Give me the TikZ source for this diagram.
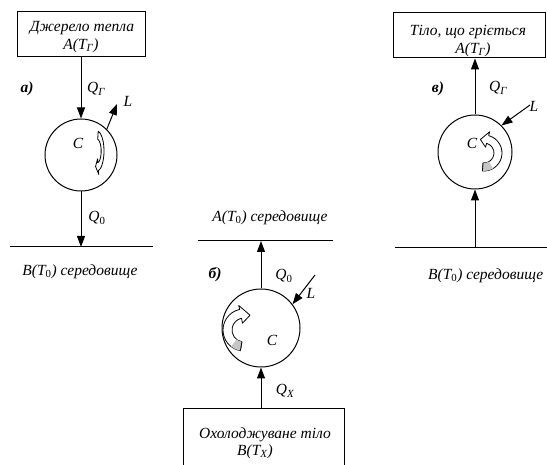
\documentclass[tikz,border=0pt]{standalone}
\usepackage{fontspec}
\setmainfont{Liberation Serif}
\usetikzlibrary{arrows.meta}
\begin{document}
\begin{tikzpicture}[x=1pt,y=-1pt,
  lbl/.style={font=\itshape\fontsize{15.5}{18}\selectfont, inner sep=0pt},
  tag/.style={font=\bfseries\itshape\fontsize{15.5}{18}\selectfont, inner sep=0pt},
  box/.style={draw, line width=1pt, inner sep=0pt},
  sys/.style={draw, circle, line width=1pt, inner sep=0pt},
  flow/.style={line width=1pt, -{Triangle[length=11pt,width=8pt]}},
  level/.style={line width=1pt},
  band/.style={draw, line width=0.8pt, fill=white, line join=round},
  bandtail/.style={fill=gray!45}
]
\useasboundingbox (0,0) rectangle (547,465);
\clip (0,0) rectangle (547,465);

% ---------- panel a ----------
\node[box, minimum width=128pt, minimum height=45pt] (boxa) at (81,34.5) {};
\node[lbl] (ta1) at (82,28) {Джерело тепла};
\node[lbl] (ta2) at (81,46) {A(T\textsubscript{Г})};
\node[sys, minimum size=72pt] (ca) at (81,155) {};
\node[lbl] (Ca) at (78,143) {C};
\node[tag] (taga) at (27,89) {а)};
\node[lbl] (QGa) at (96,89) {Q\textsubscript{Г}};
\node[lbl] (La) at (128,101) {L};
\coordinate (Lae) at (117,104);
\node[lbl] (Q0a) at (97,218) {Q\textsubscript{\upshape 0}};
\coordinate (la1) at (10,247);
\coordinate (la2) at (153,247);
\node[lbl] (Ba) at (80,272) {B(T\textsubscript{\upshape 0}) середовище};
\draw[level] (la1) -- (la2);
\draw[flow] (boxa.south -| ca) -- (ca.north);
\draw[flow] (ca.south) -- (ca.south |- la1);
\draw[flow] (ca.45) -- (Lae);
\begin{scope}[shift={(97,151)}, xscale=0.35]
  \draw[band] (-80:12) arc[start angle=-80, end angle=78, radius=12]
    -- (78:8) -- (105:16) -- (78:24) -- (78:20)
    arc[start angle=78, end angle=-80, radius=20] -- cycle;
\end{scope}

% ---------- panel b ----------
\node[lbl] (Ab) at (270,218) {A(T\textsubscript{\upshape 0}) середовище};
\coordinate (lb1) at (198,241);
\coordinate (lb2) at (333,241);
\draw[level] (lb1) -- (lb2);
\node[sys, minimum size=78pt] (cb) at (261,328) {};
\node[lbl] (Cb) at (272,340) {C};
\node[tag] (tagb) at (215,275) {б)};
\node[lbl] (Q0b) at (284,276) {Q\textsubscript{\upshape 0}};
\node[lbl] (Lb) at (311,293) {L};
\coordinate (Lbs) at (315,275);
\node[lbl] (QXb) at (285,391) {Q\textsubscript{X}};
\node[box, minimum width=161pt, minimum height=70pt] (boxb) at (263.5,444) {};
\node[lbl] (tb1) at (265,435) {Охолоджуване тіло};
\node[lbl] (tb2) at (255,452) {B(T\textsubscript{X})};
\draw[flow] (cb.north) -- (cb.north |- lb1);
\draw[flow] (boxb.north -| cb) -- (cb.south);
\draw[flow] (Lbs) -- (cb.37);
\begin{scope}[shift={(244,330)}]
  \draw[band] (100:12) arc[start angle=100, end angle=258, radius=12]
    -- (258:7) -- (292:16) -- (258:25) -- (258:21)
    arc[start angle=258, end angle=100, radius=21] -- cycle;
  \fill[bandtail] (100:12) arc[start angle=100, end angle=128, radius=12]
    -- (128:21) arc[start angle=128, end angle=100, radius=21] -- cycle;
  \draw[line width=0.8pt] (100:12) -- (100:21);
\end{scope}

% ---------- panel c ----------
\node[box, minimum width=152pt, minimum height=45pt] (boxc) at (469,35.5) {};
\node[lbl] (tc1) at (468,32) {Тіло, що гріється};
\node[lbl] (tc2) at (473,50) {A(T\textsubscript{Г})};
\node[sys, minimum size=74pt] (cc) at (475,152) {};
\node[lbl] (Cc) at (472,143) {C};
\node[tag] (tagc) at (438,89) {в)};
\node[lbl] (QGc) at (498,88) {Q\textsubscript{Г}};
\node[lbl] (Lc) at (534,106) {L};
\coordinate (Lcs) at (530,105);
\coordinate (lc1) at (395,248);
\coordinate (lc2) at (547,248);
\draw[level] (lc1) -- (lc2);
\node[lbl, anchor=west] (Bc) at (428,276) {B(T\textsubscript{\upshape 0}) середовище};
\draw[flow] (cc.north) -- (cc.north |- boxc.south);
\draw[flow] (cc.south |- lc1) -- (cc.south);
\draw[flow] (Lcs) -- (cc.45);
\begin{scope}[shift={(484,153)}]
  \draw[band] (95:10) arc[start angle=95, end angle=-75, radius=10]
    -- (-75:6) -- (-105:14) -- (-75:22) -- (-75:18)
    arc[start angle=-75, end angle=95, radius=18] -- cycle;
  \fill[bandtail] (95:10) arc[start angle=95, end angle=60, radius=10]
    -- (60:18) arc[start angle=60, end angle=95, radius=18] -- cycle;
  \draw[line width=0.8pt] (95:10) -- (95:18);
\end{scope}
\end{tikzpicture}
\end{document}
